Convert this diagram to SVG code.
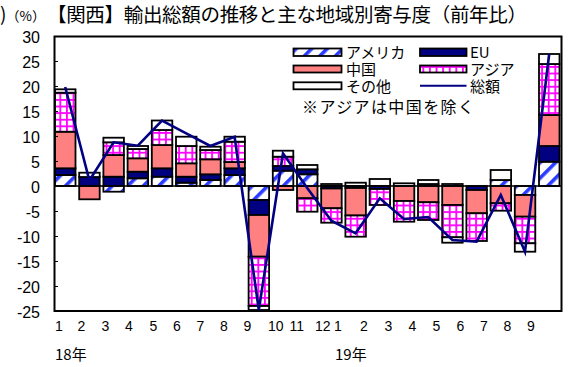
<svg xmlns="http://www.w3.org/2000/svg" width="576" height="367" viewBox="0 0 576 367">
<style>
.seg rect{stroke:#000;stroke-width:1.8}
.A{fill:url(#amer)}
.E{fill:#000080}
.C{fill:#FF8080}
.S{fill:url(#asia)}
.O{fill:#fff}
.num{font-family:"Liberation Sans",Arial,sans-serif;font-size:16px;fill:#000}
.cat{font-family:"Liberation Sans",Arial,sans-serif;font-size:14px;fill:#000}
.jp{font-family:"Noto Sans CJK JP","Liberation Sans",sans-serif;fill:#000}
.leg{font-size:15px}
</style>
<defs>
<pattern id="asia" patternUnits="userSpaceOnUse" width="6.6" height="6.6">
<rect width="6.6" height="6.6" fill="#fff"/>
<rect width="6.6" height="1.8" fill="#f0f"/>
<rect width="1.8" height="6.6" fill="#f0f"/>
</pattern>
<pattern id="amer" patternUnits="userSpaceOnUse" width="11" height="11" patternTransform="rotate(45)">
<rect width="11" height="11" fill="#fff"/>
<rect width="3.6" height="11" fill="#2a3cff"/>
</pattern>
</defs>
<rect width="576" height="367" fill="#fff"/>

<!-- title -->
<text class="jp" x="0" y="21" font-size="19">)</text>
<text class="jp" x="6" y="21" font-size="13.5">（%）</text>
<text class="jp" x="47" y="22" font-size="19.5" textLength="480" lengthAdjust="spacing">【関西】輸出総額の推移と主な地域別寄与度（前年比）</text>

<!-- y axis labels -->
<g id="yaxis" class="num" text-anchor="end">
<text x="40" y="43">30</text>
<text x="40" y="68">25</text>
<text x="40" y="93">20</text>
<text x="40" y="118">15</text>
<text x="40" y="143">10</text>
<text x="40" y="168">5</text>
<text x="40" y="193">0</text>
<text x="40" y="218">-5</text>
<text x="40" y="243">-10</text>
<text x="40" y="268">-15</text>
<text x="40" y="293">-20</text>
<text x="40" y="318">-25</text>
</g>

<!-- bars -->
<g id="bars" class="seg">
<g id="b1"><rect class="A" x="55" y="175" width="20.5" height="11"/><rect class="E" x="55" y="168.3" width="20.5" height="6.7"/><rect class="C" x="55" y="131.7" width="20.5" height="36.6"/><rect class="S" x="55" y="92.7" width="20.5" height="39"/><rect class="O" x="55" y="89.3" width="20.5" height="3.4"/></g>
<g id="b2"><rect class="E" x="79.2" y="177" width="20.5" height="9"/><rect class="O" x="79.2" y="172.7" width="20.5" height="4.3"/><rect class="C" x="79.2" y="186" width="20.5" height="13.3"/></g>
<g id="b3"><rect class="E" x="103.4" y="176.7" width="20.5" height="9.3"/><rect class="C" x="103.4" y="155" width="20.5" height="21.7"/><rect class="S" x="103.4" y="142.3" width="20.5" height="12.7"/><rect class="O" x="103.4" y="137.7" width="20.5" height="4.6"/><rect class="A" x="103.4" y="186" width="20.5" height="5.7"/></g>
<g id="b4"><rect class="A" x="127.6" y="178.3" width="20.5" height="7.7"/><rect class="E" x="127.6" y="171.7" width="20.5" height="6.6"/><rect class="C" x="127.6" y="158.3" width="20.5" height="13.4"/><rect class="S" x="127.6" y="149" width="20.5" height="9.3"/><rect class="O" x="127.6" y="146" width="20.5" height="3"/></g>
<g id="b5"><rect class="A" x="151.8" y="176.7" width="20.5" height="9.3"/><rect class="E" x="151.8" y="168.3" width="20.5" height="8.4"/><rect class="C" x="151.8" y="145" width="20.5" height="23.3"/><rect class="S" x="151.8" y="130" width="20.5" height="15"/><rect class="O" x="151.8" y="120.5" width="20.5" height="9.5"/></g>
<g id="b6"><rect class="A" x="176" y="182.7" width="20.5" height="3.3"/><rect class="E" x="176" y="176.7" width="20.5" height="6"/><rect class="C" x="176" y="163.3" width="20.5" height="13.4"/><rect class="S" x="176" y="146" width="20.5" height="17.3"/><rect class="O" x="176" y="136.7" width="20.5" height="9.3"/></g>
<g id="b7"><rect class="A" x="200.2" y="180" width="20.5" height="6"/><rect class="E" x="200.2" y="174.3" width="20.5" height="5.7"/><rect class="C" x="200.2" y="159.3" width="20.5" height="15"/><rect class="S" x="200.2" y="150" width="20.5" height="9.3"/><rect class="O" x="200.2" y="146.7" width="20.5" height="3.3"/></g>
<g id="b8"><rect class="A" x="224.4" y="175" width="20.5" height="11"/><rect class="E" x="224.4" y="168.3" width="20.5" height="6.7"/><rect class="C" x="224.4" y="162" width="20.5" height="6.3"/><rect class="S" x="224.4" y="141.7" width="20.5" height="20.3"/><rect class="O" x="224.4" y="136.7" width="20.5" height="5"/></g>
<g id="b9"><rect class="A" x="248.6" y="186" width="20.5" height="14"/><rect class="E" x="248.6" y="200" width="20.5" height="15"/><rect class="C" x="248.6" y="215" width="20.5" height="41.7"/><rect class="S" x="248.6" y="256.7" width="20.5" height="49.3"/><rect class="O" x="248.6" y="306" width="20.5" height="4"/></g>
<g id="b10"><rect class="A" x="272.8" y="170.7" width="20.5" height="15.3"/><rect class="E" x="272.8" y="166" width="20.5" height="4.7"/><rect class="S" x="272.8" y="156.7" width="20.5" height="9.3"/><rect class="O" x="272.8" y="150.7" width="20.5" height="6"/><rect class="C" x="272.8" y="186" width="20.5" height="4"/></g>
<g id="b11"><rect class="A" x="297" y="174.3" width="20.5" height="11.7"/><rect class="E" x="297" y="169.3" width="20.5" height="5"/><rect class="O" x="297" y="165" width="20.5" height="4.3"/><rect class="C" x="297" y="186" width="20.5" height="12.3"/><rect class="S" x="297" y="198.3" width="20.5" height="13.4"/></g>
<g id="b12"><rect class="O" x="321.2" y="184" width="20.5" height="2"/><rect class="E" x="321.2" y="186" width="20.5" height="2.5"/><rect class="C" x="321.2" y="188.5" width="20.5" height="19.8"/><rect class="S" x="321.2" y="208.3" width="20.5" height="14.4"/></g>
<g id="b13"><rect class="O" x="345.4" y="182.7" width="20.5" height="3.3"/><rect class="E" x="345.4" y="186" width="20.5" height="2"/><rect class="C" x="345.4" y="188" width="20.5" height="27.5"/><rect class="S" x="345.4" y="215.5" width="20.5" height="21.2"/></g>
<g id="b14"><rect class="O" x="369.6" y="179" width="20.5" height="7"/><rect class="E" x="369.6" y="186" width="20.5" height="3"/><rect class="S" x="369.6" y="189" width="20.5" height="16"/></g>
<g id="b15"><rect class="O" x="393.8" y="183.3" width="20.5" height="2.7"/><rect class="C" x="393.8" y="186" width="20.5" height="15"/><rect class="S" x="393.8" y="201" width="20.5" height="20.7"/></g>
<g id="b16"><rect class="A" x="418" y="184" width="20.5" height="2"/><rect class="O" x="418" y="180" width="20.5" height="4"/><rect class="C" x="418" y="186" width="20.5" height="16.3"/><rect class="S" x="418" y="202.3" width="20.5" height="17.7"/></g>
<g id="b17"><rect class="A" x="442.2" y="184" width="20.5" height="2"/><rect class="C" x="442.2" y="186" width="20.5" height="19"/><rect class="S" x="442.2" y="205" width="20.5" height="32.3"/><rect class="O" x="442.2" y="237.3" width="20.5" height="5.4"/></g>
<g id="b18"><rect class="E" x="466.4" y="186" width="20.5" height="4"/><rect class="C" x="466.4" y="190" width="20.5" height="23.3"/><rect class="S" x="466.4" y="213.3" width="20.5" height="27.7"/></g>
<g id="b19"><rect class="A" x="490.6" y="180" width="20.5" height="6"/><rect class="O" x="490.6" y="170" width="20.5" height="10"/><rect class="C" x="490.6" y="186" width="20.5" height="17.3"/><rect class="S" x="490.6" y="203.3" width="20.5" height="7.4"/></g>
<g id="b20"><rect class="A" x="514.8" y="186" width="20.5" height="9"/><rect class="C" x="514.8" y="195" width="20.5" height="21.7"/><rect class="S" x="514.8" y="216.7" width="20.5" height="26.6"/><rect class="O" x="514.8" y="243.3" width="20.5" height="8.4"/></g>
<g id="b21"><rect class="A" x="539" y="161.7" width="20.5" height="24.3"/><rect class="E" x="539" y="146" width="20.5" height="15.7"/><rect class="C" x="539" y="115" width="20.5" height="31"/><rect class="S" x="539" y="64" width="20.5" height="51"/><rect class="O" x="539" y="54" width="20.5" height="10"/></g>
</g>

<!-- axes / frame -->
<g id="frame" stroke="#000" fill="none">
<rect x="54.5" y="36.5" width="507" height="274.5" stroke-width="2"/>
<line x1="54" y1="186" x2="561" y2="186" stroke-width="1.6"/>
<path d="M54 61.5h4M54 86.5h4M54 111.5h4M54 136.5h4M54 161.5h4M54 211.5h4M54 236.5h4M54 261.5h4M54 286.5h4" stroke-width="1"/>
</g>

<!-- total line -->
<g id="connectors">
<polyline fill="none" stroke="#000080" stroke-width="2.6" stroke-linejoin="miter" points="65.2,87 89.4,180.5 113.6,142.3 137.8,145.7 162,120.7 186.2,133.3 210.4,146 234.6,136.7 258.8,310 283,153.3 307.2,188 331.4,220.7 355.6,233.3 379.8,198.3 404,219 428.2,217 452.4,240 476.6,241.7 500.8,195 525,251.7 549.2,54"/>
</g>

<!-- category labels -->
<g id="cats" class="cat">
<text x="55" y="331">1</text>
<text x="77.5" y="331">2</text>
<text x="101.5" y="331">3</text>
<text x="125" y="331">4</text>
<text x="149.5" y="331">5</text>
<text x="173" y="331">6</text>
<text x="196.5" y="331">7</text>
<text x="220" y="331">8</text>
<text x="243.5" y="331">9</text>
<text x="268" y="331">10</text>
<text x="289.5" y="331">11</text>
<text x="315" y="331">12</text>
<text x="334" y="331">1</text>
<text x="360" y="331">2</text>
<text x="384.5" y="331">3</text>
<text x="408.5" y="331">4</text>
<text x="432.5" y="331">5</text>
<text x="456.5" y="331">6</text>
<text x="480" y="331">7</text>
<text x="503.5" y="331">8</text>
<text x="527" y="331">9</text>
</g>
<text class="jp" x="55" y="360" font-size="15">18年</text>
<text class="jp" x="335" y="360" font-size="15">19年</text>

<!-- legend -->
<g id="legend" class="seg">
<g id="leg-amer"><rect class="A" x="293.5" y="48.5" width="48" height="7.5"/><text class="jp leg" x="346" y="58">アメリカ</text></g>
<g id="leg-eu"><rect class="E" x="420" y="48.5" width="46.5" height="7.5"/><text class="jp leg" x="470" y="58">EU</text></g>
<g id="leg-china"><rect class="C" x="293.5" y="65.5" width="48" height="7"/><text class="jp leg" x="346" y="75">中国</text></g>
<g id="leg-asia"><rect class="S" x="420" y="65.5" width="46.5" height="7"/><text class="jp leg" x="470" y="75">アジア</text></g>
<g id="leg-other"><rect class="O" x="293.5" y="82.3" width="48" height="7"/><text class="jp leg" x="346" y="92">その他</text></g>
<g id="leg-total"><line x1="420" y1="85.8" x2="466.5" y2="85.8" stroke="#000080" stroke-width="2"/><text class="jp leg" x="470" y="92">総額</text></g>
<text class="jp" x="302" y="112.5" font-size="16" textLength="172" lengthAdjust="spacing">※アジアは中国を除く</text>
</g>
</svg>
